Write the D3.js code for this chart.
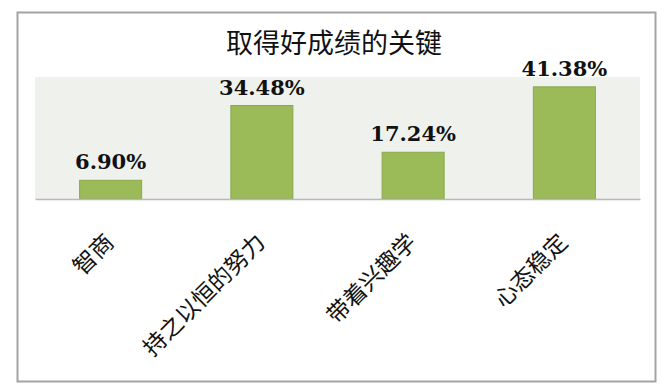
<!DOCTYPE html>
<html lang="zh">
<head>
  <meta charset="UTF-8">
  <title>取得好成绩的关键</title>
  <script src="https://d3js.org/d3.v7.min.js"></script>
  <style>
    body { margin: 0; background: #fff; }
    svg { display: block; }
  </style>
</head>
<body>
  <div id="chart"></div>
  <script>
    // 数据
    const categories = ["智商", "持之以恒的努力", "带着兴趣学", "心态稳定"];
    const values = [6.90, 34.48, 17.24, 41.38];
    const yDomain = [0, 45];

    const width = 663, height = 387;
    const plot = { left: 35, right: 640, top: 77, bottom: 199 };

    const svg = d3.select("#chart").append("svg")
      .attr("width", width)
      .attr("height", height);

    // 外边框
    svg.append("rect")
      .attr("x", 17.5).attr("y", 12.5)
      .attr("width", 638).attr("height", 369)
      .attr("fill", "#fff")
      .attr("stroke", "#a3a3a3")
      .attr("stroke-width", 2);

    // 标题
    svg.append("text")
      .attr("x", 334).attr("y", 53)
      .attr("text-anchor", "middle")
      .attr("font-family", "'Noto Sans CJK SC', sans-serif")
      .attr("font-size", 27)
      .attr("fill", "#111")
      .text("取得好成绩的关键");

    const x = d3.scaleBand()
      .domain(categories)
      .range([plot.left, plot.right])
      .paddingInner(0.59)
      .paddingOuter(0.295);

    const y = d3.scaleLinear()
      .domain(yDomain)
      .range([plot.bottom, plot.top]);

    // 绘图区背景
    svg.append("rect")
      .attr("x", plot.left).attr("y", plot.top)
      .attr("width", plot.right - plot.left)
      .attr("height", plot.bottom - plot.top)
      .attr("fill", "#eff1ec");

    // 柱子
    svg.selectAll(".bar")
      .data(values)
      .enter()
      .append("rect")
      .attr("class", "bar")
      .attr("x", (d, i) => x(categories[i]))
      .attr("y", d => y(d))
      .attr("width", x.bandwidth())
      .attr("height", d => y(0) - y(d))
      .attr("fill", "#9bbb59")
      .attr("stroke", "#89a94b")
      .attr("stroke-width", 1);

    // 数值标签
    svg.selectAll(".val")
      .data(values)
      .enter()
      .append("text")
      .attr("class", "val")
      .attr("x", (d, i) => x(categories[i]) + x.bandwidth() / 2)
      .attr("y", d => y(d) - 11)
      .attr("text-anchor", "middle")
      .attr("font-family", "'DejaVu Serif', serif")
      .attr("font-weight", "bold")
      .attr("font-size", 21)
      .attr("fill", "#111")
      .text(d => d.toFixed(2) + "%");

    // X 轴
    const xAxis = svg.append("g")
      .attr("transform", `translate(0, ${plot.bottom})`)
      .call(d3.axisBottom(x).tickSize(0).tickPadding(0));

    xAxis.select(".domain")
      .attr("stroke", "#b8b8b8")
      .attr("stroke-width", 1.5);

    xAxis.selectAll("text")
      .attr("font-family", "'Noto Sans CJK SC', sans-serif")
      .attr("font-size", 23)
      .attr("fill", "#111")
      .attr("text-anchor", "end")
      .attr("dy", "0.35em")
      .attr("y", 0)
      .attr("transform", "translate(-1, 39) rotate(-45)");
  </script>
</body>
</html>
